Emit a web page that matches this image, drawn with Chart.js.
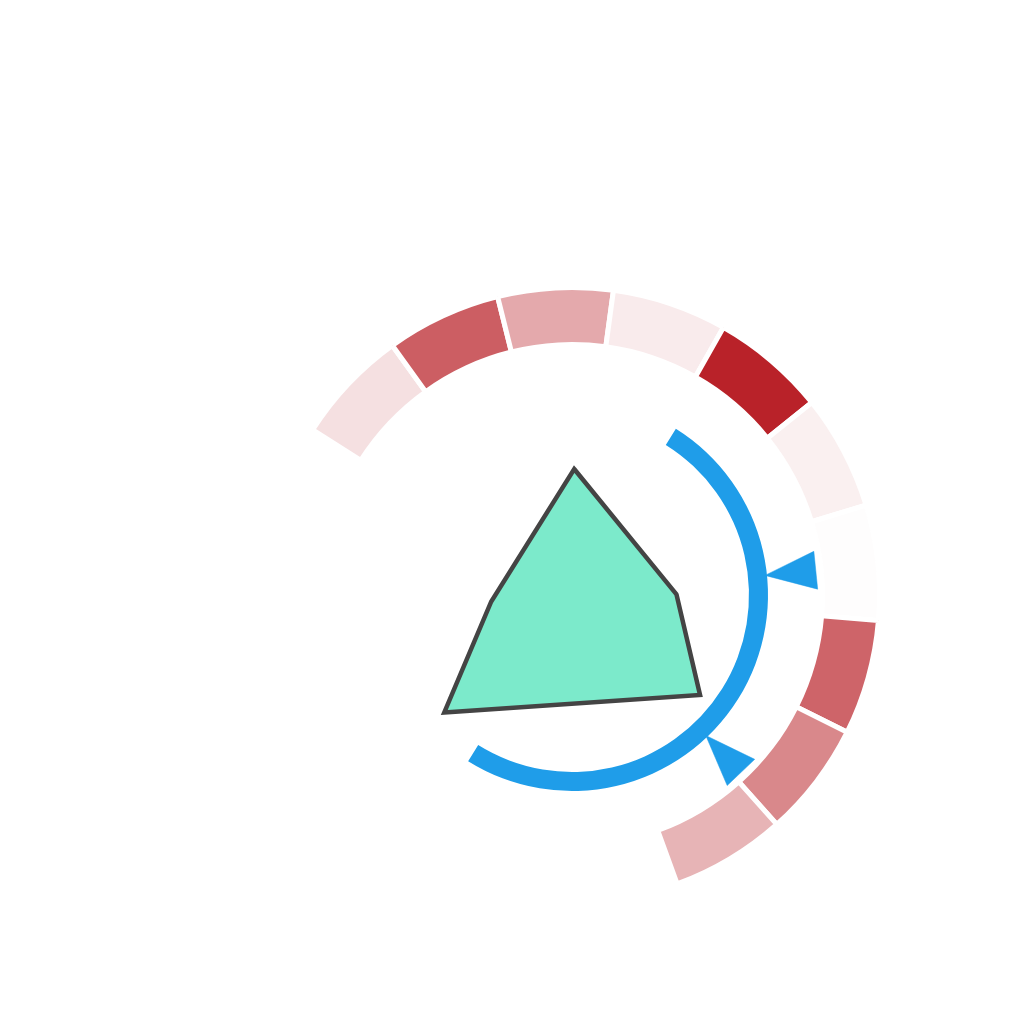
<!DOCTYPE html>
<html>
<head>
<meta charset="utf-8">
<script src="https://cdn.jsdelivr.net/npm/chart.js@4.4.1/dist/chart.umd.min.js"></script>
<style>
html,body{margin:0;padding:0;background:#ffffff;overflow:hidden;width:1024px;height:1024px}
#wrap{position:absolute;left:172px;top:195px;width:800px;height:800px}
#wrap canvas{position:absolute;left:0;top:0}
</style>
</head>
<body>
<div id="wrap">
  <canvas id="ring" width="800" height="800"></canvas>
  <canvas id="gauge" width="800" height="800"></canvas>
  <canvas id="polar" width="800" height="800"></canvas>
</div>
<script>
// ---------- DATA ----------
// Outer heat ring: 10 sectors, each with an intensity value (0-100)
const ringCategories = ['S1', 'S2', 'S3', 'S4', 'S5', 'S6', 'S7', 'S8', 'S9', 'S10'];
const ringValues = [14, 73, 39, 9, 100, 7, 1, 70, 54, 34];
const ringMax = 100;

// Gauge: value range and two pointer values
const gaugeMin = 0;
const gaugeMax = 100;
const pointerValues = [29, 58];

// Polar line (closed, filled): angle in degrees (clockwise from top), radius
const polarAngles = [1, 89.7, 128, 227.4, 265.4];
const polarRadii = [126, 104.5, 162.5, 173.5, 81];

// ---------- LAYOUT / STYLE CONSTANTS ----------
const ringStartDeg = 302.5, ringSpanDeg = 217.5;
const ringOuter = 307.5, ringInner = 250.5, ringGap = 5;
const gaugeStartDeg = 32, gaugeSpanDeg = 180;
const gaugeOuter = 196, gaugeInner = 177;
const blue = '#1f9de9';
const pointerTipR = 194, pointerBaseR = 245, pointerHalfW = 19;
const heatDark = [185, 34, 41];

function heatColor(v) {
  const t = v / ringMax;
  const c = heatDark.map(d => Math.round(255 + (d - 255) * t));
  return `rgb(${c[0]},${c[1]},${c[2]})`;
}
const transparent = 'rgba(0,0,0,0)';
const common = {
  responsive: false, animation: false, events: [],
  plugins: { legend: { display: false }, tooltip: { enabled: false } }
};

// ---------- RING (doughnut, remainder transparent) ----------
const ringFiller = ringCategories.length * (360 - ringSpanDeg) / ringSpanDeg;
new Chart(document.getElementById('ring'), {
  type: 'doughnut',
  data: {
    labels: [...ringCategories, ''],
    datasets: [{
      data: [...ringCategories.map(() => 1), ringFiller],
      backgroundColor: [...ringValues.map(heatColor), transparent],
      borderColor: [...ringCategories.map(() => '#ffffff'), transparent],
      borderWidth: ringGap,
      borderJoinStyle: 'miter'
    }]
  },
  options: Object.assign({}, common, {
    rotation: ringStartDeg,
    circumference: 360,
    radius: ringOuter,
    cutout: (ringInner / ringOuter * 100) + '%'
  })
});

// ---------- GAUGE AXIS LINE ----------
new Chart(document.getElementById('gauge'), {
  type: 'doughnut',
  data: {
    labels: ['axis', ''],
    datasets: [{
      data: [gaugeSpanDeg, 360 - gaugeSpanDeg],
      backgroundColor: [blue, transparent],
      borderWidth: 0
    }]
  },
  options: Object.assign({}, common, {
    rotation: gaugeStartDeg,
    circumference: 360,
    radius: gaugeOuter,
    cutout: (gaugeInner / gaugeOuter * 100) + '%'
  })
});

// ---------- POLAR LINE + POINTERS (scatter on pixel-unit linear axes) ----------
function pt(r, deg) {
  const a = deg * Math.PI / 180;
  return { x: r * Math.sin(a), y: r * Math.cos(a) };
}
const polyPts = polarAngles.map((a, i) => pt(polarRadii[i], a));
const polyPath = [...polyPts, polyPts[0], polyPts[1]];

function valueToDeg(v) {
  return gaugeStartDeg + (v - gaugeMin) / (gaugeMax - gaugeMin) * gaugeSpanDeg;
}
const pointerSets = pointerValues.map(v => {
  const d = valueToDeg(v);
  const a = d * Math.PI / 180;
  const tip = pt(pointerTipR, d);
  const base = pt(pointerBaseR, d);
  const px = Math.cos(a) * pointerHalfW, py = -Math.sin(a) * pointerHalfW;
  const b1 = { x: base.x + px, y: base.y + py };
  const b2 = { x: base.x - px, y: base.y - py };
  return {
    data: [tip, b1, b2, tip],
    showLine: true, fill: 'shape', tension: 0,
    backgroundColor: blue, borderColor: blue, borderWidth: 0.5,
    pointRadius: 0
  };
});

new Chart(document.getElementById('polar'), {
  type: 'scatter',
  data: {
    datasets: [{
      data: polyPath,
      showLine: true, fill: 'shape', tension: 0,
      backgroundColor: '#7ceacb',
      borderColor: '#444444',
      borderWidth: 4.5,
      borderJoinStyle: 'miter',
      borderCapStyle: 'butt',
      pointRadius: 0
    }, ...pointerSets]
  },
  options: Object.assign({}, common, {
    layout: { padding: 0 },
    scales: {
      x: { type: 'linear', min: -400, max: 400, display: false },
      y: { type: 'linear', min: -400, max: 400, display: false }
    }
  })
});
</script>
</body>
</html>
